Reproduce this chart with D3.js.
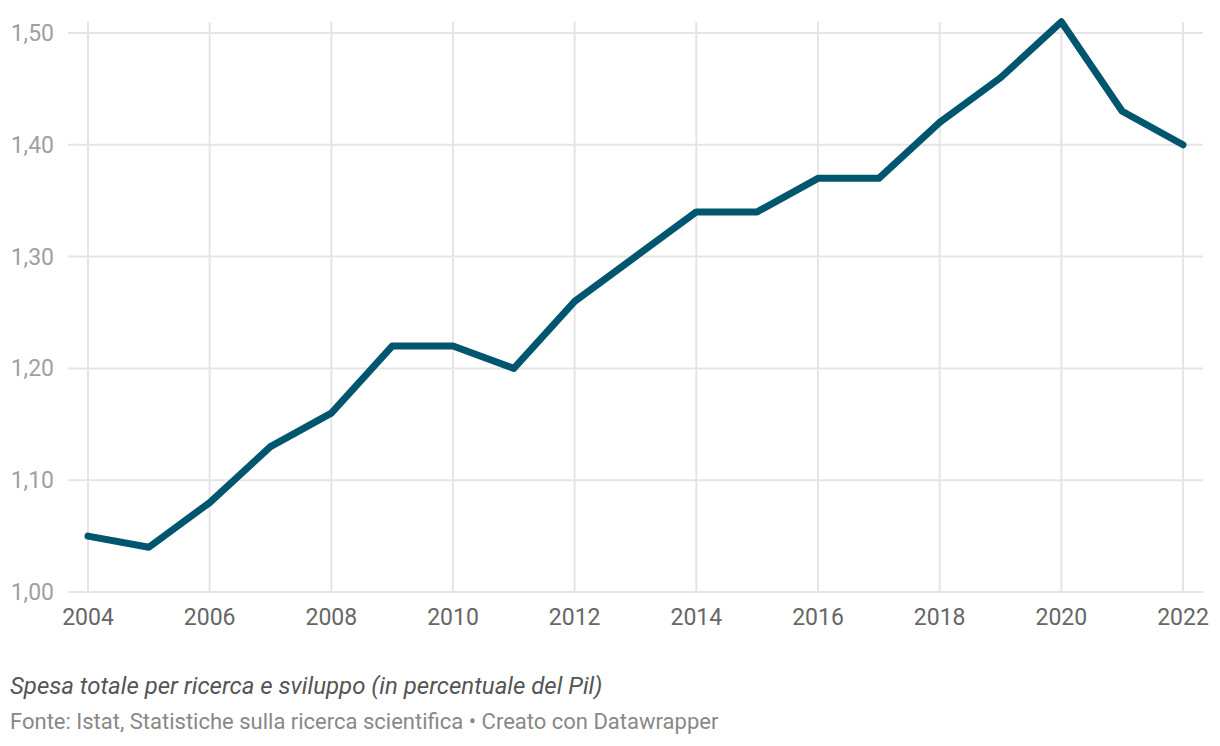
<!DOCTYPE html>
<meta charset="utf-8">
<script src="https://d3js.org/d3.v7.min.js"></script>
<style>
  body { margin: 0; background: #fff; font-family: Roboto, sans-serif; }
</style>
<div id="chart"></div>
<script>

// data
var years = [2004, 2005, 2006, 2007, 2008, 2009, 2010, 2011, 2012, 2013, 2014, 2015, 2016, 2017, 2018, 2019, 2020, 2021, 2022];
var values = [1.05, 1.04, 1.08, 1.13, 1.16, 1.22, 1.22, 1.20, 1.26, 1.30, 1.34, 1.34, 1.37, 1.37, 1.42, 1.46, 1.51, 1.43, 1.40];
var yTicks = [1.0, 1.1, 1.2, 1.3, 1.4, 1.5];
var xTicks = [2004, 2006, 2008, 2010, 2012, 2014, 2016, 2018, 2020, 2022];
var caption = "Spesa totale per ricerca e sviluppo (in percentuale del Pil)";
var source = "Fonte: Istat, Statistiche sulla ricerca scientifica • Creato con Datawrapper";

var W = 1220, H = 746;

var svg = d3.select("#chart")
  .append("svg")
    .attr("width", W)
    .attr("height", H);

var x = d3.scaleLinear()
  .domain([2004, 2022])
  .range([88, 1183]);

var y = d3.scaleLinear()
  .domain([1.0, 1.5])
  .range([592, 33]);

var fmt = function(d) { return d3.format(".2f")(d).replace(".", ","); };

// horizontal grid
svg.append("g")
  .selectAll("line")
  .data(yTicks)
  .enter()
  .append("line")
    .attr("x1", 68)
    .attr("x2", 1203)
    .attr("y1", function(d) { return y(d); })
    .attr("y2", function(d) { return y(d); })
    .attr("stroke", "#e5e5e5")
    .attr("stroke-width", 2);

// vertical grid
svg.append("g")
  .selectAll("line")
  .data(xTicks)
  .enter()
  .append("line")
    .attr("x1", function(d) { return x(d); })
    .attr("x2", function(d) { return x(d); })
    .attr("y1", 22)
    .attr("y2", 592)
    .attr("stroke", "#e5e5e5")
    .attr("stroke-width", 2);

// y labels
svg.append("g")
  .selectAll("text")
  .data(yTicks)
  .enter()
  .append("text")
    .attr("x", 54)
    .attr("y", function(d) { return y(d); })
    .attr("dy", "0.35em")
    .attr("text-anchor", "end")
    .style("font-size", "23px")
    .style("fill", "#a0a0a0")
    .text(fmt);

// x labels
svg.append("g")
  .selectAll("text")
  .data(xTicks)
  .enter()
  .append("text")
    .attr("x", function(d) { return x(d); })
    .attr("y", 625)
    .attr("text-anchor", "middle")
    .style("font-size", "23px")
    .style("fill", "#666666")
    .text(function(d) { return d; });

// the line
svg.append("path")
  .datum(years.map(function(d, i) { return [d, values[i]]; }))
  .attr("d", d3.line()
    .x(function(d) { return x(d[0]); })
    .y(function(d) { return y(d[1]); })
  )
  .attr("fill", "none")
  .attr("stroke", "#00566f")
  .attr("stroke-width", 7)
  .attr("stroke-linejoin", "round")
  .attr("stroke-linecap", "round");

// footer
svg.append("text")
  .attr("x", 10)
  .attr("y", 694)
  .style("font-size", "24px")
  .style("font-style", "italic")
  .style("fill", "#555555")
  .text(caption);

svg.append("text")
  .attr("x", 10)
  .attr("y", 729)
  .style("font-size", "22px")
  .style("fill", "#888888")
  .text(source);

</script>
